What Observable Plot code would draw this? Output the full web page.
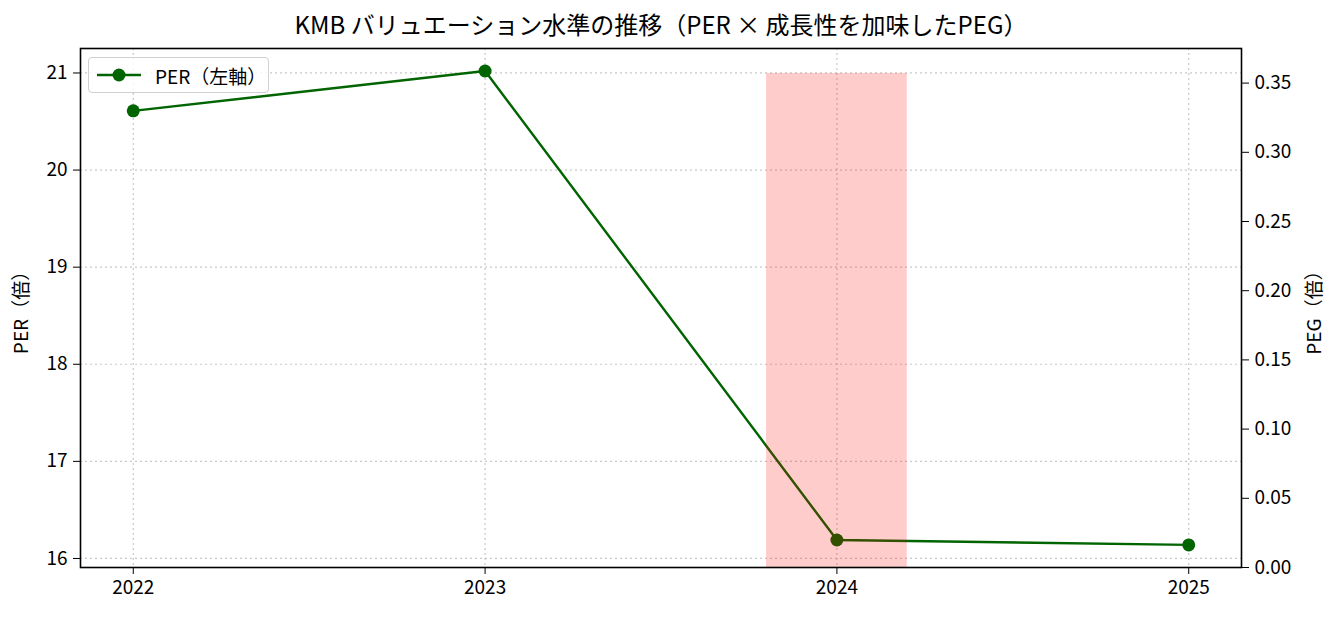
<!DOCTYPE html>
<html>
<head>
<meta charset="utf-8">
<script src="https://cdn.jsdelivr.net/npm/d3@7"></script>
<script src="https://cdn.jsdelivr.net/npm/@observablehq/plot@0.6"></script>
<style>
  html, body { margin: 0; padding: 0; background: #fff; }
  #wrap { position: relative; width: 1341px; height: 617px; font-family: "Noto Sans CJK JP", sans-serif; }
  #legend { position: absolute; left: 88px; top: 57px; width: 181px; height: 36px; border: 1.5px solid #d0d0d0; border-radius: 4px; background: rgba(255,255,255,0.8); box-sizing: border-box; display: flex; align-items: center; font-size: 19px; color: #000; }
  #legend svg { margin-left: 8px; margin-right: 14px; }
</style>
</head>
<body>
<div id="wrap">
  <div id="chart"></div>
  <div id="legend">
    <svg width="44" height="16"><line x1="0" y1="8" x2="44" y2="8" stroke="#006400" stroke-width="2.4"></line><circle cx="22" cy="8" r="6.5" fill="#006400"></circle></svg>
    <span>PER（左軸）</span>
  </div>
</div>
<script>
const title = "KMB バリュエーション水準の推移（PER × 成長性を加味したPEG）";
const years = [2022, 2023, 2024, 2025];
const perValues = [20.61, 21.02, 16.19, 16.14];
const pegYears = [2024];
const pegValues = [0.357];
const perTicks = [16, 17, 18, 19, 20, 21];
const pegTicks = [0, 0.05, 0.10, 0.15, 0.20, 0.25, 0.30, 0.35];

const yMin = 15.907, yMax = 21.252;
const pegMax = 0.375;
const pegToY = v => yMin + v / pegMax * (yMax - yMin);
const yToPeg = y => (y - yMin) / (yMax - yMin) * pegMax;

const per = years.map((y, i) => ({year: y, per: perValues[i]}));
const peg = pegYears.map((y, i) => ({year: y, peg: pegValues[i]}));
const barHalf = 0.2;

const grid = {stroke: "#b0b0b0", strokeOpacity: 0.7, strokeDasharray: "2,3", strokeWidth: 1.2};

const chart = Plot.plot({
  width: 1341,
  height: 617,
  marginLeft: 80,
  marginRight: 100,
  marginTop: 48,
  marginBottom: 50,
  style: {fontFamily: "'Noto Sans CJK JP', sans-serif", fontSize: "19px", color: "#000", background: "#fff"},
  x: {domain: [2021.85, 2025.15]},
  y: {domain: [yMin, yMax]},
  marks: [
    Plot.gridX({ticks: years, ...grid}),
    Plot.gridY({ticks: perTicks, ...grid}),
    Plot.line(per, {x: "year", y: "per", stroke: "#006400", strokeWidth: 2.4}),
    Plot.dot(per, {x: "year", y: "per", r: 6.5, fill: "#006400"}),
    Plot.rect(peg, {x1: d => d.year - barHalf, x2: d => d.year + barHalf, y1: () => pegToY(0), y2: d => pegToY(d.peg), fill: "red", fillOpacity: 0.2}),
    Plot.frame({stroke: "#000", strokeWidth: 1.6}),
    Plot.axisX({ticks: years, tickFormat: d => String(d), tickSize: 7, tickPadding: 6, tickWidth: 1.6, label: null}),
    Plot.axisY({anchor: "left", ticks: perTicks, tickFormat: d => String(d), tickSize: 7, tickPadding: 6, label: "PER（倍）", labelAnchor: "center", labelArrow: "none", labelOffset: 66}),
    Plot.axisY({anchor: "right", ticks: pegTicks.map(pegToY), tickFormat: d => yToPeg(d).toFixed(2), tickSize: 7, tickPadding: 6, label: "PEG（倍）", labelAnchor: "center", labelArrow: "none", labelOffset: 79}),
    Plot.text([title], {text: d => d, frameAnchor: "top", dy: -22, fontSize: 24, lineAnchor: "middle"})
  ]
});
document.getElementById("chart").appendChild(chart);
</script>
</body>
</html>
